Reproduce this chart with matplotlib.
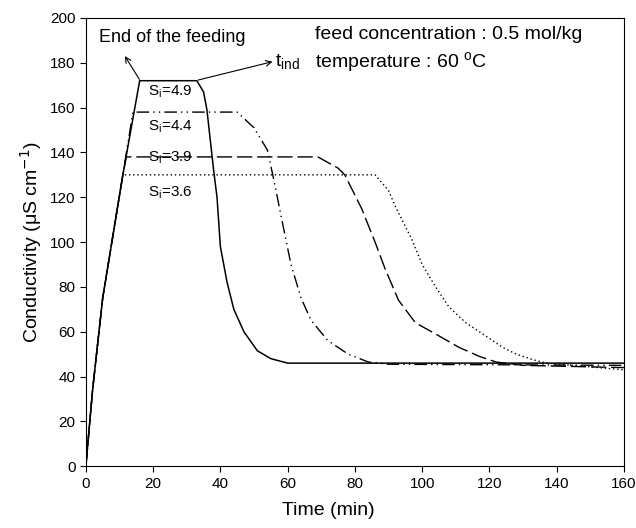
import matplotlib
matplotlib.use("Agg")
import matplotlib.pyplot as plt

plt.rcParams['font.family'] = ['Liberation Sans', 'DejaVu Sans']

# S_i = 4.9
x49 = [0, 2, 5, 11, 16, 33, 35, 36, 38, 39, 40, 42, 44, 47, 51, 55, 60, 160]
y49 = [0, 34, 75, 130, 172, 172, 167, 159, 132, 120, 98, 82, 70, 60, 51.5, 48, 46, 46]
# S_i = 4.4
x44 = [0, 2, 5, 11, 14, 45, 50, 54, 56, 58, 61, 64, 67, 72, 78, 84, 90, 160]
y44 = [0, 34, 75, 130, 158, 158, 151, 141, 127, 112, 90, 75, 65, 56, 50, 46.5, 45.5, 45]
# S_i = 3.9
x39 = [0, 2, 5, 11, 12, 69, 75, 77, 82, 86, 89, 93, 98, 104, 111, 117, 122, 130, 160]
y39 = [0, 34, 75, 130, 138, 138, 133, 130, 115, 100, 88, 74, 64, 59, 53, 49, 46.5, 45, 44]
# S_i = 3.6
x36 = [0, 2, 5, 11, 86, 90, 92, 97, 100, 104, 108, 113, 119, 124, 128, 133, 137, 145, 160]
y36 = [0, 34, 75, 130, 130, 123, 116, 101, 90, 80, 71, 64, 58, 53, 50, 47.5, 46, 45, 43]

fig = plt.figure(figsize=(6.36, 5.28), dpi=100)
ax = fig.add_axes([0.135, 0.117, 0.846, 0.849])

ax.plot(x49, y49, color='black', lw=1.1, ls='-')
ax.plot(x44, y44, color='black', lw=1.0, ls=(0, (9, 3, 1, 3, 1, 3)))
ax.plot(x39, y39, color='black', lw=1.0, ls=(0, (11, 3.5)))
ax.plot(x36, y36, color='black', lw=1.0, ls=(0, (1, 2)))

ax.set_xlim(0, 160)
ax.set_ylim(0, 200)
ax.set_xticks(range(0, 161, 20))
ax.set_yticks(range(0, 201, 20))
ax.tick_params(direction='out', top=False, right=False, labelsize=11, length=4)
ax.set_xlabel('Time (min)', fontsize=14)
ax.xaxis.set_label_coords(0.45, -0.08)
ax.set_ylabel(r'Conductivity ($\mathregular{\mu}$S cm$^{-1}$)', fontsize=14)

# labels
ax.text(18.5, 167, r'S$_\mathregular{i}$=4.9', fontsize=11, va='center')
ax.text(18.5, 151.5, r'S$_\mathregular{i}$=4.4', fontsize=11, va='center')
ax.text(18.5, 137.5, r'S$_\mathregular{i}$=3.9', fontsize=11, va='center')
ax.text(18.5, 122, r'S$_\mathregular{i}$=3.6', fontsize=11, va='center')

ax.text(68, 192.5, 'feed concentration : 0.5 mol/kg', fontsize=14, va='center')
ax.text(68, 180, r'temperature : 60 $^\mathregular{o}$C', fontsize=14, va='center')

ax.annotate('', xy=(11.6, 183), xytext=(15.9, 172.6),
            arrowprops=dict(arrowstyle='->', color='black', lw=0.8,
                            shrinkA=0, shrinkB=0))
ax.text(4, 191.5, 'End of the feeding', fontsize=13, va='center')
ax.annotate('', xy=(55.5, 180.5), xytext=(33.4, 172.3),
            arrowprops=dict(arrowstyle='->', color='black', lw=0.8,
                            shrinkA=0, shrinkB=0))
ax.text(56.3, 180, r't$_\mathregular{ind}$', fontsize=14, va='center')

fig.savefig('out.png', dpi=100)
